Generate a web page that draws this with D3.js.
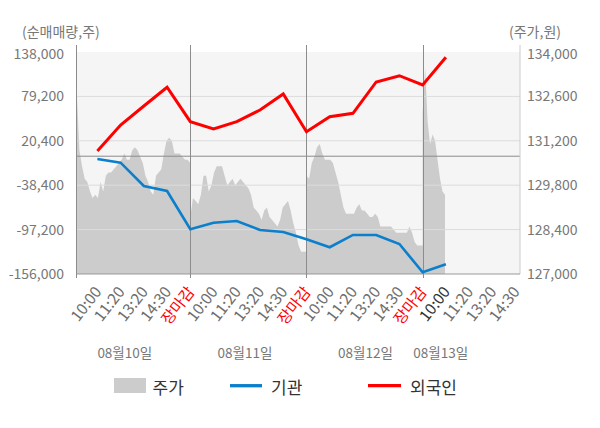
<!DOCTYPE html>
<html>
<head>
<meta charset="utf-8">
<script src="https://cdn.jsdelivr.net/npm/d3@7"></script>
<style>
  body { margin: 0; background: #fff; }
  svg { font-family: "Noto Sans CJK KR", "Noto Sans", sans-serif; }
</style>
</head>
<body>
<svg id="chart" width="600" height="428"></svg>
<script>
// Categories / labels
var dates = ["08월10일", "08월11일", "08월12일", "08월13일"];
var timeLabels = ["10:00", "11:20", "13:20", "14:30", "장마감",
                  "10:00", "11:20", "13:20", "14:30", "장마감",
                  "10:00", "11:20", "13:20", "14:30", "장마감",
                  "10:00", "11:20", "13:20", "14:30"];
var leftTicks = [138000, 79200, 20400, -38400, -97200, -156000];
var rightTicks = [134000, 132600, 131200, 129800, 128400, 127000];

// Net buying (주), one value per time slot starting at 08/10 10:00
var foreign = [6900, 41300, 66500, 91300, 45700, 36000, 45700, 61200, 82400, 32500,
               52300, 56800, 98300, 106600, 94300, 131000];
var institution = [-3700, -8600, -39500, -46100, -96800, -88100, -85800, -97700, -100400, -110000,
                   -120600, -104300, -104300, -116300, -153700, -143100];

// Stock price (원), intraday samples per day
var day1Price = [132700, 130900, 130400, 130000, 129900, 129600, 129400, 129500, 129400, 129900,
                 129600, 130100, 130200, 130200, 130300, 130400, 130500, 130600, 130800, 130600,
                 130600, 130900, 131000, 130900, 130700, 130500, 130100, 129900, 129600, 129500,
                 130100, 130200, 130300, 130800, 131200, 131300, 131200, 130800, 130800, 130800,
                 130700, 130600, 130600, 130500];
var day2Price = [128800, 129400, 129300, 129200, 129500, 130100, 130100, 129600, 129800, 130200,
                 130400, 130400, 130400, 130100, 129800, 129900, 130000, 129800, 129900, 130000,
                 129900, 129800, 129700, 129500, 129100, 129000, 128900, 128700, 129000, 129100,
                 128800, 128700, 128600, 128500, 128700, 129100, 129200, 129300, 129000, 128600,
                 128300, 127900, 127700, 127700, 127700];
var day3Price = [130100, 130000, 130500, 130700, 131000, 131100, 130800, 130600, 130600, 130600,
                 130500, 130200, 129900, 129500, 129100, 128900, 128900, 128900, 128900, 129100,
                 129200, 129000, 129000, 128900, 128800, 128800, 128900, 128800, 128500, 128500,
                 128500, 128500, 128500, 128400, 128300, 128300, 128300, 128300, 128300, 128500,
                 128300, 128000, 127900, 127900, 127900];
var day4Price = [132100, 133500, 131800, 131100, 131400, 131200, 130600, 130000, 129600, 129500];

// Layout
var plot = {left: 76, right: 520, top: 52, bottom: 274};
var svg = d3.select("#chart");

// x in "slot" units: each label slot = 1, a trading day = 5 slots
var x = d3.scaleLinear().domain([0.08, 19.19]).range([plot.left, plot.right]);
var yL = d3.scaleLinear().domain([-156000, 138000]).range([plot.bottom, plot.top]);
var yR = d3.scaleLinear().domain([127000, 134000]).range([plot.bottom, plot.top]);

// Build price points
var step = 5 / 44;
var pricePts = [];
[day1Price, day2Price, day3Price, day4Price].forEach(function(vals, d) {
    var start = d === 0 ? 5 - (vals.length - 1) * step : 5 * d;
    var st = d === 3 ? step * 0.94 : step;
    vals.forEach(function(p, i) { pricePts.push({s: start + i * st, p: p}); });
});

// Background
svg.append("rect")
    .attr("x", plot.left).attr("y", plot.top)
    .attr("width", plot.right - plot.left).attr("height", plot.bottom - plot.top)
    .attr("fill", "#f5f5f5");

// Price area
var area = d3.area()
    .x(function(d) { return x(d.s); })
    .y0(yR(127000))
    .y1(function(d) { return yR(d.p); });
svg.append("path").datum(pricePts)
    .attr("d", area)
    .attr("fill", "#cccccc");

// Horizontal grid
svg.append("g").selectAll("line")
    .data(leftTicks.slice(1, -1))
  .enter().append("line")
    .attr("x1", plot.left).attr("x2", plot.right)
    .attr("y1", function(d) { return yL(d); }).attr("y2", function(d) { return yL(d); })
    .attr("stroke", "#dcdcdc").attr("stroke-width", 1);

// Zero line
svg.append("line")
    .attr("x1", plot.left).attr("x2", plot.right)
    .attr("y1", yL(0)).attr("y2", yL(0))
    .attr("stroke", "#8c8c8c").attr("stroke-width", 1);

// Right axis line
svg.append("line")
    .attr("x1", plot.right).attr("x2", plot.right)
    .attr("y1", plot.top - 7).attr("y2", plot.bottom)
    .attr("stroke", "#cccccc");

// Bottom axis line
svg.append("line")
    .attr("x1", plot.left).attr("x2", plot.right)
    .attr("y1", plot.bottom).attr("y2", plot.bottom)
    .attr("stroke", "#999999");

// Day separators (and left axis)
svg.append("g").selectAll("line")
    .data([0.08, 5, 10, 15])
  .enter().append("line")
    .attr("x1", function(d) { return Math.round(x(d)) + 0.5; })
    .attr("x2", function(d) { return Math.round(x(d)) + 0.5; })
    .attr("y1", plot.top - 7).attr("y2", plot.bottom + 4)
    .attr("stroke", "#8c8c8c");

// Flow lines
var line = function(yScale) {
    return d3.line()
        .x(function(d, i) { return x(i + 1); })
        .y(function(d) { return yScale(d); });
};
svg.append("path").datum(institution)
    .attr("d", line(yL))
    .attr("fill", "none").attr("stroke", "#0b7fcb").attr("stroke-width", 2.6);
svg.append("path").datum(foreign)
    .attr("d", line(yL))
    .attr("fill", "none").attr("stroke", "#ff0000").attr("stroke-width", 3);

// Left axis labels
svg.append("g").selectAll("text")
    .data(leftTicks)
  .enter().append("text")
    .attr("x", 64)
    .attr("y", function(d, i) { return yL(d) + (i === 0 ? 2 : 0); })
    .attr("dy", "0.35em")
    .attr("text-anchor", "end")
    .attr("font-size", 14)
    .attr("fill", "#777")
    .text(function(d) { return d3.format(",")(d).replace("−", "-"); });

// Right axis labels
svg.append("g").selectAll("text")
    .data(rightTicks)
  .enter().append("text")
    .attr("x", 527)
    .attr("y", function(d, i) { return yR(d) + (i === 0 ? 2 : 0); })
    .attr("dy", "0.35em")
    .attr("font-size", 14)
    .attr("fill", "#777")
    .text(function(d) { return d3.format(",")(d); });

// Axis titles
svg.append("text").attr("x", 22).attr("y", 37)
    .attr("font-size", 14).attr("fill", "#777").text("(순매매량,주)");
svg.append("text").attr("x", 509).attr("y", 37)
    .attr("font-size", 14).attr("fill", "#777").text("(주가,원)");

// Time tick labels
svg.append("g").selectAll("text")
    .data(timeLabels)
  .enter().append("text")
    .attr("transform", function(d, i) {
        return "translate(" + (x(i + 1) + 5) + "," + 292 + ") rotate(-52)";
    })
    .attr("text-anchor", "end")
    .attr("font-size", 15.5)
    .attr("fill", function(d, i) {
        if (d === "장마감") return "#ff0000";
        return i === 15 ? "#333" : "#6e6e6e";
    })
    .text(function(d) { return d; });

// Date labels
var dateSlots = [2.18, 7.35, 12.54, 15.78];
svg.append("g").selectAll("text")
    .data(dates)
  .enter().append("text")
    .attr("x", function(d, i) { return x(dateSlots[i]); })
    .attr("y", 358)
    .attr("text-anchor", "middle")
    .attr("font-size", 13.5)
    .attr("fill", "#777")
    .text(function(d) { return d; });

// Legend
var legend = svg.append("g").attr("font-size", 17).attr("fill", "#333");
legend.append("rect").attr("x", 114).attr("y", 378).attr("width", 32).attr("height", 15).attr("fill", "#cccccc");
legend.append("text").attr("x", 152.5).attr("y", 393.5).text("주가");
legend.append("line").attr("x1", 230).attr("x2", 262).attr("y1", 385.7).attr("y2", 385.7)
    .attr("stroke", "#0b7fcb").attr("stroke-width", 3.3);
legend.append("text").attr("x", 271).attr("y", 393.5).text("기관");
legend.append("line").attr("x1", 368).attr("x2", 401).attr("y1", 385.7).attr("y2", 385.7)
    .attr("stroke", "#ff0000").attr("stroke-width", 3.3);
legend.append("text").attr("x", 410).attr("y", 393.5).text("외국인");
</script>
</body>
</html>
